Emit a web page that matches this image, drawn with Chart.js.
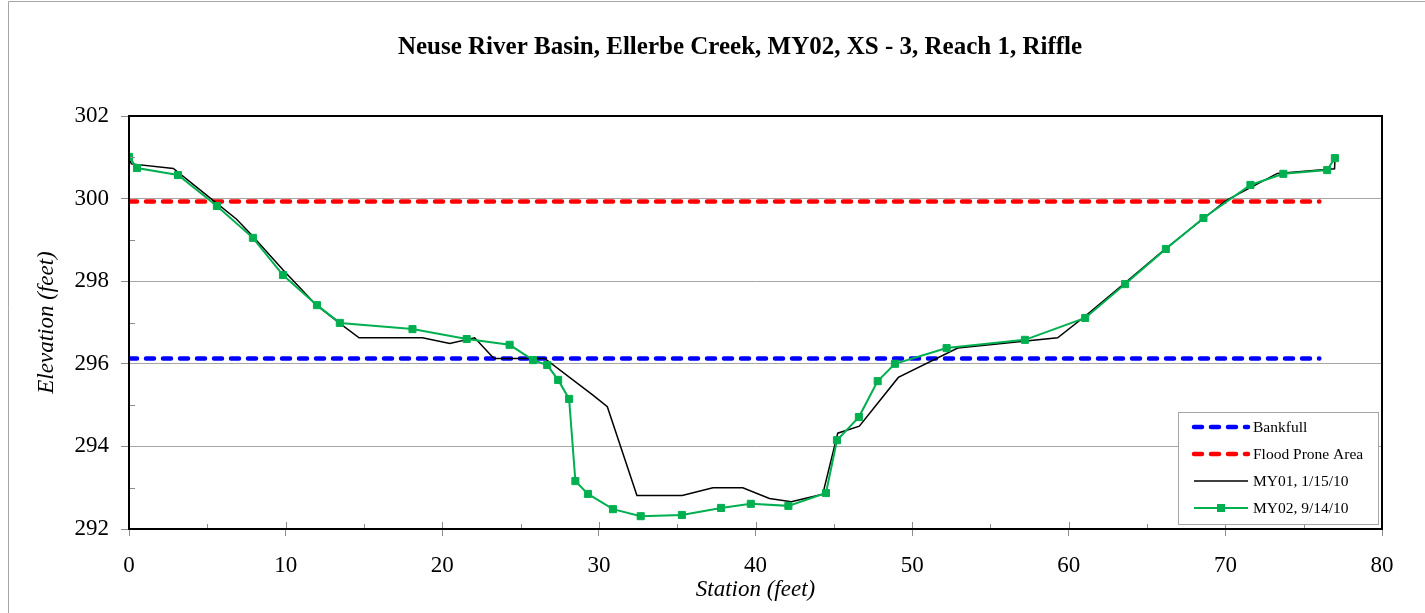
<!DOCTYPE html>
<html>
<head>
<meta charset="utf-8">
<script src="https://cdn.jsdelivr.net/npm/chart.js@4.4.0/dist/chart.umd.min.js"></script>
<style>
html,body{margin:0;padding:0;background:#fff;}
#wrap{width:1425px;height:613px;position:relative;}
</style>
</head>
<body>
<div id="wrap"><canvas id="c" width="1425" height="613"></canvas></div>
<script>
const chartTitle = 'Neuse River Basin, Ellerbe Creek, MY02, XS - 3, Reach 1, Riffle';
const xAxisTitle = 'Station (feet)';
const yAxisTitle = 'Elevation (feet)';
const xTickValues = [0, 10, 20, 30, 40, 50, 60, 70, 80];
const yTickValues = [292, 294, 296, 298, 300, 302];
const seriesLabels = ['Bankfull', 'Flood Prone Area', 'MY01, 1/15/10', 'MY02, 9/14/10'];

const bankfullStation = [0, 76];
const bankfullElev = [296.13, 296.13];
const floodStation = [0, 76];
const floodElev = [299.93, 299.93];

const my01Station = [0, 0.15, 2.83, 5.49, 6.87, 7.83, 9.84, 11.97, 13.46, 14.69, 18.74, 20.48, 22.07, 23.3, 26.54, 29.62, 30.54, 32.43, 35.32, 37.28, 39.19, 40.89, 42.28, 44.29, 45.25, 46.63, 49.12, 52.91, 59.29, 61.0, 63.6, 66.15, 68.65, 70.03, 73.32, 76.97, 77.0];
const my01Elev = [301.0, 300.84, 300.73, 299.92, 299.5, 299.12, 298.27, 297.42, 296.98, 296.63, 296.63, 296.49, 296.63, 296.13, 296.13, 295.24, 294.96, 292.81, 292.81, 293.0, 293.0, 292.74, 292.66, 292.84, 294.32, 294.49, 295.67, 296.38, 296.63, 297.14, 297.96, 298.78, 299.53, 299.95, 300.61, 300.72, 300.98];

const my02Station = [0, 0.51, 3.13, 5.61, 7.91, 9.83, 12.0, 13.46, 18.1, 21.56, 24.3, 25.8, 26.7, 27.4, 28.1, 28.5, 29.3, 30.9, 32.67, 35.3, 37.8, 39.7, 42.1, 44.5, 45.2, 46.6, 47.8, 48.9, 52.2, 57.2, 61.05, 63.6, 66.2, 68.6, 71.6, 73.7, 76.5, 76.99];
const my02Elev = [301.01, 300.74, 300.57, 299.82, 299.05, 298.15, 297.42, 296.99, 296.84, 296.6, 296.46, 296.09, 295.97, 295.61, 295.15, 293.16, 292.85, 292.48, 292.31, 292.34, 292.51, 292.61, 292.56, 292.87, 294.15, 294.71, 295.58, 296.0, 296.38, 296.58, 297.11, 297.93, 298.78, 299.53, 300.33, 300.6, 300.69, 300.98];

const toXY = (xs, ys) => xs.map((x, i) => ({x: x, y: ys[i]}));
const FONT = '"Liberation Serif", "Times New Roman", serif';
const GREEN = '#00B050';

const framePlugin = {
  id: 'frame',
  afterLayout(chart) {
    if (chart.titleBlock) {
      chart.titleBlock.left = 98;
      chart.titleBlock.right = chart.chartArea.right;
    }
  },
  beforeDraw(chart) {
    const c = chart.ctx;
    c.save();
    c.strokeStyle = '#a6a6a6';
    c.lineWidth = 1;
    c.beginPath();
    c.moveTo(8.5, 613);
    c.lineTo(8.5, 1.5);
    c.lineTo(1425, 1.5);
    c.stroke();
    c.restore();
  },
  afterDraw(chart) {
    const c = chart.ctx;
    const ca = chart.chartArea;
    const xs = chart.scales.x, ys = chart.scales.y;
    c.save();
    c.strokeStyle = '#8c8c8c';
    c.lineWidth = 1;
    c.beginPath();
    for (let v = ys.min + 1; v < ys.max; v += 2) {
      const py = Math.round(ys.getPixelForValue(v)) + 0.5;
      c.moveTo(ca.left, py); c.lineTo(ca.left + 6, py);
    }
    for (let v = xs.min + 5; v < xs.max; v += 10) {
      const px = Math.round(xs.getPixelForValue(v)) + 0.5;
      c.moveTo(px, ca.bottom); c.lineTo(px, ca.bottom - 5);
    }
    for (let v = xs.min; v <= xs.max; v += 10) {
      const px = Math.round(xs.getPixelForValue(v)) + 0.5;
      c.moveTo(px, ca.bottom); c.lineTo(px, ca.bottom - 7);
    }
    c.stroke();
    c.strokeStyle = '#000';
    c.lineWidth = 2;
    c.strokeRect(ca.left, ca.top, ca.right - ca.left, ca.bottom - ca.top);
    const w = 200, h = 112;
    const bx = ca.right - 4 - w, by = ca.bottom - 5 - h;
    c.fillStyle = '#fff';
    c.fillRect(bx, by, w, h);
    c.strokeStyle = '#a6a6a6';
    c.lineWidth = 1;
    c.strokeRect(bx + 0.5, by + 0.5, w, h);
    c.font = '15.5px ' + FONT;
    c.textBaseline = 'middle';
    c.textAlign = 'left';
    chart.data.datasets.forEach((ds, i) => {
      const cy = by + 15 + i * 27;
      c.save();
      c.strokeStyle = ds.borderColor;
      c.lineWidth = ds.borderWidth;
      c.lineCap = ds.borderCapStyle || 'butt';
      c.setLineDash(ds.borderDash || []);
      c.beginPath();
      c.moveTo(bx + 16, cy);
      c.lineTo(bx + 70, cy);
      c.stroke();
      c.restore();
      if (ds.pointRadius) {
        c.fillStyle = ds.pointBackgroundColor;
        c.fillRect(bx + 43 - 4, cy - 4, 8, 8);
      }
      c.fillStyle = '#000';
      c.fillText(ds.label, bx + 75, cy + 1);
    });
    c.restore();
  }
};

new Chart(document.getElementById('c'), {
  type: 'scatter',
  data: {
    datasets: [
      {label: seriesLabels[0], data: toXY(bankfullStation, bankfullElev), showLine: true,
       borderColor: '#0000FF', backgroundColor: '#0000FF', borderWidth: 4.5, borderDash: [8, 9], borderCapStyle: 'round',
       pointRadius: 0, order: 3},
      {label: seriesLabels[1], data: toXY(floodStation, floodElev), showLine: true,
       borderColor: '#FF0000', backgroundColor: '#FF0000', borderWidth: 4.5, borderDash: [8, 9], borderCapStyle: 'round',
       pointRadius: 0, order: 2},
      {label: seriesLabels[2], data: toXY(my01Station, my01Elev), showLine: true,
       borderColor: '#000000', backgroundColor: '#000000', borderWidth: 1.5,
       pointRadius: 0, order: 1},
      {label: seriesLabels[3], data: toXY(my02Station, my02Elev), showLine: true,
       borderColor: GREEN, backgroundColor: GREEN, borderWidth: 2,
       pointStyle: 'rect', pointRadius: 5, pointBorderWidth: 1, pointBackgroundColor: GREEN, pointBorderColor: GREEN,
       order: 0}
    ]
  },
  options: {
    responsive: false,
    animation: false,
    devicePixelRatio: 1,
    layout: {padding: {left: 0, right: 43, top: 0, bottom: 0}},
    plugins: {
      legend: {display: false},
      tooltip: {enabled: false},
      title: {
        display: true, text: chartTitle, color: '#000',
        font: {family: FONT, size: 25, weight: 'bold', lineHeight: 1.2},
        padding: {top: 33, bottom: 53}
      }
    },
    scales: {
      x: {
        type: 'linear', min: 0, max: 80,
        afterBuildTicks: s => { s.ticks = xTickValues.map(v => ({value: v})); },
        afterFit: s => { s.height = 84; },
        grid: {display: true, drawOnChartArea: false, drawTicks: true, tickLength: 7, tickColor: '#8c8c8c'},
        border: {display: false},
        ticks: {color: '#000', font: {family: FONT, size: 23}, padding: 16, maxRotation: 0, autoSkip: false},
        title: {display: true, text: xAxisTitle, color: '#000', font: {family: FONT, size: 23, style: 'italic', lineHeight: 1.2}, padding: {top: 0, bottom: 9}}
      },
      y: {
        type: 'linear', min: 292, max: 302,
        afterBuildTicks: s => { s.ticks = yTickValues.map(v => ({value: v})); },
        afterFit: s => { s.width = 129; },
        grid: {display: true, color: '#a6a6a6', lineWidth: 1, drawTicks: true, tickLength: 8, tickColor: '#8c8c8c'},
        border: {display: false},
        ticks: {color: '#000', font: {family: FONT, size: 23}, padding: 12},
        title: {display: true, text: yAxisTitle, color: '#000', font: {family: FONT, size: 23, style: 'italic', lineHeight: 1.2}, padding: {top: 33, bottom: 0}}
      }
    }
  },
  plugins: [framePlugin]
});
</script>
</body>
</html>
